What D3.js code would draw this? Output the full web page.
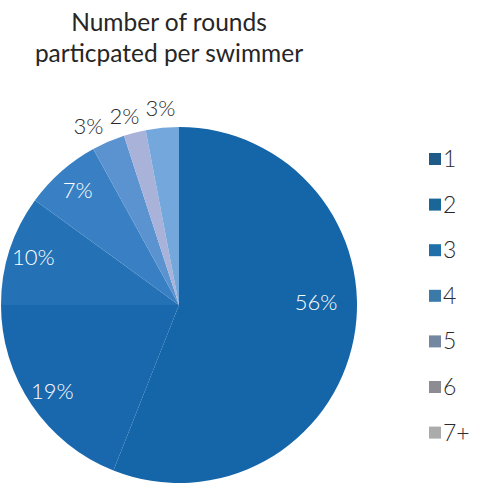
<!DOCTYPE html>
<html>
<head>
<meta charset="utf-8">
<script src="https://cdn.jsdelivr.net/npm/d3@7"></script>
<style>
  body { margin: 0; background: #fff; }
  text { font-family: Lato, "Open Sans", sans-serif; }
</style>
</head>
<body>
<script>
var rounds = ["1", "2", "3", "4", "5", "6", "7+"]
var share = [56, 19, 10, 7, 3, 2, 3]

var sliceColors = ["#1565a9", "#1968ae", "#2471b6", "#3880c3", "#5a93cf", "#a9b3da", "#74a8dc"]
var legendColors = ["#1f5a88", "#1b6698", "#216fa8", "#3b7aa8", "#7487a0", "#8c8c92", "#ababab"]

var screen = {width: 496, height: 486}
var cx = 179, cy = 305, radius = 178

var svg = d3.select("body")
  .append("svg")
  .attr("width", screen.width)
  .attr("height", screen.height)

// title
var title = svg.append("text")
  .attr("x", 169)
  .attr("y", 31)
  .attr("text-anchor", "middle")
  .attr("fill", "#262626")
  .style("font-size", "24.5px")
title.append("tspan").attr("x", 169).text("Number of rounds")
title.append("tspan").attr("x", 169).attr("dy", 31).text("particpated per swimmer")

var data = rounds.map(function(r, i) { return {label: r, value: share[i], i: i} })

var pie = d3.pie()
  .sort(null)
  .value(function(d) { return d.value })

var arcs = pie(data)

var arc = d3.arc().innerRadius(0).outerRadius(radius)

var g = svg.append("g")
  .attr("transform", "translate(" + cx + "," + cy + ")")

g.selectAll("path")
  .data(arcs)
  .enter()
  .append("path")
  .attr("d", arc)
  .attr("fill", function(d) { return sliceColors[d.data.i] })

// labels: big slices inside in white, small ones outside
var inner = d3.arc().innerRadius(radius * 0.86).outerRadius(radius * 0.86)
var outer = d3.arc().innerRadius(radius + 20).outerRadius(radius + 20)

arcs.forEach(function(d) {
  if (d.data.value > 50) d.pos = [radius * 0.77, -3] // level with the centre
  else if (d.data.value > 5) d.pos = inner.centroid(d)
  else d.pos = outer.centroid(d)
})

// push the small outside labels apart, going right to left
var outside = arcs.filter(function(d) { return d.data.value <= 5 })
for (var k = outside.length - 2; k >= 0; k--) {
  var nextX = outside[k + 1].pos[0]
  if (outside[k].pos[0] > nextX - 36) outside[k].pos = [nextX - 36, outside[k].pos[1] + 3]
}

g.selectAll("text")
  .data(arcs)
  .enter()
  .append("text")
  .attr("transform", function(d) { return "translate(" + d.pos + ")" })
  .attr("text-anchor", "middle")
  .attr("dy", "0.35em")
  .attr("fill", function(d) { return d.data.value > 5 ? "#ffffff" : "#2b2b2b" })
  .style("font-size", "22px")
  .style("font-weight", 300)
  .text(function(d) { return d.data.value + "%" })

// legend
var legend = svg.append("g")
  .attr("transform", "translate(429,153)")

var rows = legend.selectAll("g")
  .data(data)
  .enter()
  .append("g")
  .attr("transform", function(d, i) { return "translate(0," + (i * 45.6) + ")" })

rows.append("rect")
  .attr("width", 12)
  .attr("height", 12)
  .attr("fill", function(d) { return legendColors[d.i] })

rows.append("text")
  .attr("x", 14)
  .attr("y", 14)
  .attr("fill", "#2b2b2b")
  .style("font-size", "23px")
  .style("font-weight", 300)
  .text(function(d) { return d.label })
</script>
</body>
</html>
